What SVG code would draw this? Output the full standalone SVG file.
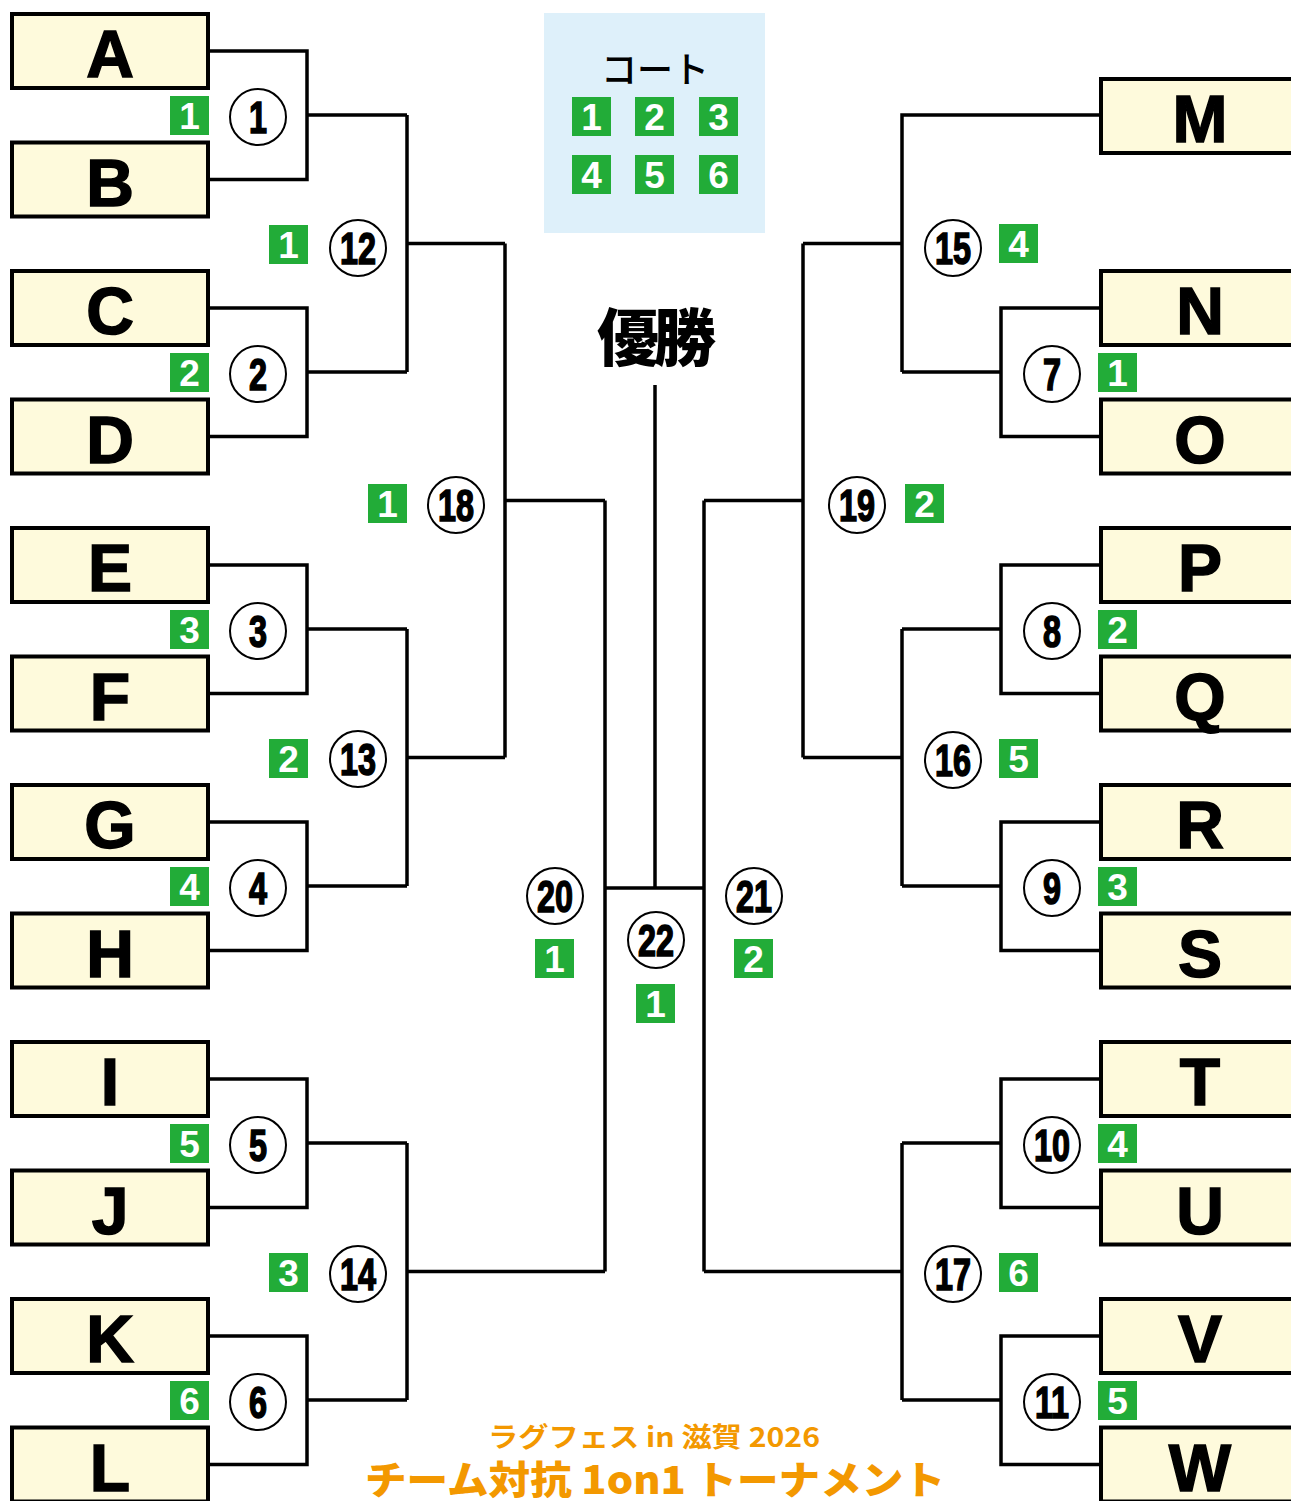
<svg xmlns="http://www.w3.org/2000/svg" width="1291" height="1501" viewBox="0 0 1291 1501">
<defs>
<style>
.box{fill:#FEFADC;stroke:#000;stroke-width:4}
.team{font-family:"Liberation Sans",Arial,sans-serif;font-weight:bold;font-size:66px;text-anchor:middle;fill:#000;stroke:#000;stroke-width:1.5}
.ln{fill:none;stroke:#000;stroke-width:3.5}
.circ{fill:#fff;stroke:#000;stroke-width:2}
.num{font-family:"Liberation Sans",Arial,sans-serif;font-weight:bold;font-size:45px;text-anchor:middle;fill:#000;stroke:#000;stroke-width:1.6}
.bd{fill:#22AC38}
.bn{font-family:"Liberation Sans",Arial,sans-serif;font-weight:bold;font-size:37px;text-anchor:middle;fill:#fff}
.jp{font-family:"Noto Sans CJK JP","Noto Sans",sans-serif}
</style>
</defs>
<rect width="1291" height="1501" fill="#fff"/>

<g id="connectors">
<path class="ln" d="M210 51H307V179.5H210M307 115H407"/>
<path class="ln" d="M210 308H307V436.5H210M307 372H407"/>
<path class="ln" d="M210 565H307V693.5H210M307 629H407"/>
<path class="ln" d="M210 822H307V950.5H210M307 886H407"/>
<path class="ln" d="M210 1079H307V1207.5H210M307 1143H407"/>
<path class="ln" d="M210 1336H307V1464.5H210M307 1400H407"/>
<path class="ln" d="M407 115V372M407 243.5H505"/>
<path class="ln" d="M407 629V886M407 757.5H505"/>
<path class="ln" d="M407 1143V1400M407 1271.5H605"/>
<path class="ln" d="M505 243.5V757.5M505 500.5H605"/>
<path class="ln" d="M605 500.5V1271.5M605 888H704"/>
<path class="ln" d="M655 385V888"/>
<path class="ln" d="M704 500.5V1271.5"/>
<path class="ln" d="M803 243.5V757.5M803 500.5H704"/>
<path class="ln" d="M1100 115H902V372M902 243.5H803"/>
<path class="ln" d="M1100 308H1001V436.5H1100M1001 372H902"/>
<path class="ln" d="M1100 565H1001V693.5H1100M1001 629H902"/>
<path class="ln" d="M1100 822H1001V950.5H1100M1001 886H902"/>
<path class="ln" d="M1100 1079H1001V1207.5H1100M1001 1143H902"/>
<path class="ln" d="M1100 1336H1001V1464.5H1100M1001 1400H902"/>
<path class="ln" d="M902 629V886M902 757.5H803"/>
<path class="ln" d="M902 1143V1400M902 1271.5H704"/>
</g>

<g id="team-A"><rect class="box" x="12" y="14" width="196" height="74"/><text class="team" x="110" y="77">A</text></g>
<g id="team-B"><rect class="box" x="12" y="142.5" width="196" height="74"/><text class="team" x="110" y="205.5">B</text></g>
<g id="team-C"><rect class="box" x="12" y="271" width="196" height="74"/><text class="team" x="110" y="334">C</text></g>
<g id="team-D"><rect class="box" x="12" y="399.5" width="196" height="74"/><text class="team" x="110" y="462.5">D</text></g>
<g id="team-E"><rect class="box" x="12" y="528" width="196" height="74"/><text class="team" x="110" y="591">E</text></g>
<g id="team-F"><rect class="box" x="12" y="656.5" width="196" height="74"/><text class="team" x="110" y="719.5">F</text></g>
<g id="team-G"><rect class="box" x="12" y="785" width="196" height="74"/><text class="team" x="110" y="848">G</text></g>
<g id="team-H"><rect class="box" x="12" y="913.5" width="196" height="74"/><text class="team" x="110" y="976.5">H</text></g>
<g id="team-I"><rect class="box" x="12" y="1042" width="196" height="74"/><text class="team" x="110" y="1105">I</text></g>
<g id="team-J"><rect class="box" x="12" y="1170.5" width="196" height="74"/><text class="team" x="110" y="1233.5">J</text></g>
<g id="team-K"><rect class="box" x="12" y="1299" width="196" height="74"/><text class="team" x="110" y="1362">K</text></g>
<g id="team-L"><rect class="box" x="12" y="1427.5" width="196" height="74"/><text class="team" x="110" y="1490.5">L</text></g>

<g id="team-M"><rect class="box" x="1101" y="79" width="200" height="74"/><text class="team" x="1200" y="142">M</text></g>
<g id="team-N"><rect class="box" x="1101" y="271" width="200" height="74"/><text class="team" x="1200" y="334">N</text></g>
<g id="team-O"><rect class="box" x="1101" y="399.5" width="200" height="74"/><text class="team" x="1200" y="462.5">O</text></g>
<g id="team-P"><rect class="box" x="1101" y="528" width="200" height="74"/><text class="team" x="1200" y="591">P</text></g>
<g id="team-Q"><rect class="box" x="1101" y="656.5" width="200" height="74"/><text class="team" x="1200" y="719.5">Q</text></g>
<g id="team-R"><rect class="box" x="1101" y="785" width="200" height="74"/><text class="team" x="1200" y="848">R</text></g>
<g id="team-S"><rect class="box" x="1101" y="913.5" width="200" height="74"/><text class="team" x="1200" y="976.5">S</text></g>
<g id="team-T"><rect class="box" x="1101" y="1042" width="200" height="74"/><text class="team" x="1200" y="1105">T</text></g>
<g id="team-U"><rect class="box" x="1101" y="1170.5" width="200" height="74"/><text class="team" x="1200" y="1233.5">U</text></g>
<g id="team-V"><rect class="box" x="1101" y="1299" width="200" height="74"/><text class="team" x="1200" y="1362">V</text></g>
<g id="team-W"><rect class="box" x="1101" y="1427.5" width="200" height="74"/><text class="team" x="1200" y="1490.5">W</text></g>

<g id="match-1"><rect class="bd" x="170" y="96" width="39" height="39"/><text class="bn" x="189.5" y="129">1</text><circle class="circ" cx="258" cy="117" r="28"/><text class="num" transform="translate(258 133) scale(0.72 1)">1</text></g>
<g id="match-2"><rect class="bd" x="170" y="353" width="39" height="39"/><text class="bn" x="189.5" y="386">2</text><circle class="circ" cx="258" cy="374" r="28"/><text class="num" transform="translate(258 390) scale(0.72 1)">2</text></g>
<g id="match-3"><rect class="bd" x="170" y="610" width="39" height="39"/><text class="bn" x="189.5" y="643">3</text><circle class="circ" cx="258" cy="631" r="28"/><text class="num" transform="translate(258 647) scale(0.72 1)">3</text></g>
<g id="match-4"><rect class="bd" x="170" y="867" width="39" height="39"/><text class="bn" x="189.5" y="900">4</text><circle class="circ" cx="258" cy="888" r="28"/><text class="num" transform="translate(258 904) scale(0.72 1)">4</text></g>
<g id="match-5"><rect class="bd" x="170" y="1124" width="39" height="39"/><text class="bn" x="189.5" y="1157">5</text><circle class="circ" cx="258" cy="1145" r="28"/><text class="num" transform="translate(258 1161) scale(0.72 1)">5</text></g>
<g id="match-6"><rect class="bd" x="170" y="1381" width="39" height="39"/><text class="bn" x="189.5" y="1414">6</text><circle class="circ" cx="258" cy="1402" r="28"/><text class="num" transform="translate(258 1418) scale(0.72 1)">6</text></g>
<g id="match-12"><rect class="bd" x="269" y="225" width="39" height="39"/><text class="bn" x="288.5" y="258">1</text><circle class="circ" cx="358" cy="248" r="28"/><text class="num" transform="translate(358 264) scale(0.72 1)">12</text></g>
<g id="match-13"><rect class="bd" x="269" y="739" width="39" height="39"/><text class="bn" x="288.5" y="772">2</text><circle class="circ" cx="358" cy="759" r="28"/><text class="num" transform="translate(358 775) scale(0.72 1)">13</text></g>
<g id="match-14"><rect class="bd" x="269" y="1253" width="39" height="39"/><text class="bn" x="288.5" y="1286">3</text><circle class="circ" cx="358" cy="1274" r="28"/><text class="num" transform="translate(358 1290) scale(0.72 1)">14</text></g>
<g id="match-18"><rect class="bd" x="368" y="484" width="39" height="39"/><text class="bn" x="387.5" y="517">1</text><circle class="circ" cx="456" cy="505" r="28"/><text class="num" transform="translate(456 521) scale(0.72 1)">18</text></g>
<g id="match-20"><rect class="bd" x="535" y="939" width="39" height="39"/><text class="bn" x="554.5" y="972">1</text><circle class="circ" cx="555" cy="896" r="28"/><text class="num" transform="translate(555 912) scale(0.72 1)">20</text></g>
<g id="match-22"><rect class="bd" x="636" y="984" width="39" height="39"/><text class="bn" x="655.5" y="1017">1</text><circle class="circ" cx="656" cy="940" r="28"/><text class="num" transform="translate(656 956) scale(0.72 1)">22</text></g>
<g id="match-21"><rect class="bd" x="734" y="939" width="39" height="39"/><text class="bn" x="753.5" y="972">2</text><circle class="circ" cx="754" cy="896" r="28"/><text class="num" transform="translate(754 912) scale(0.72 1)">21</text></g>
<g id="match-19"><rect class="bd" x="905" y="484" width="39" height="39"/><text class="bn" x="924.5" y="517">2</text><circle class="circ" cx="857" cy="505" r="28"/><text class="num" transform="translate(857 521) scale(0.72 1)">19</text></g>
<g id="match-15"><rect class="bd" x="999" y="224" width="39" height="39"/><text class="bn" x="1018.5" y="257">4</text><circle class="circ" cx="953" cy="248" r="28"/><text class="num" transform="translate(953 264) scale(0.72 1)">15</text></g>
<g id="match-16"><rect class="bd" x="999" y="739" width="39" height="39"/><text class="bn" x="1018.5" y="772">5</text><circle class="circ" cx="953" cy="760" r="28"/><text class="num" transform="translate(953 776) scale(0.72 1)">16</text></g>
<g id="match-17"><rect class="bd" x="999" y="1253" width="39" height="39"/><text class="bn" x="1018.5" y="1286">6</text><circle class="circ" cx="953" cy="1274" r="28"/><text class="num" transform="translate(953 1290) scale(0.72 1)">17</text></g>
<g id="match-7"><rect class="bd" x="1098" y="353" width="39" height="39"/><text class="bn" x="1117.5" y="386">1</text><circle class="circ" cx="1052" cy="374" r="28"/><text class="num" transform="translate(1052 390) scale(0.72 1)">7</text></g>
<g id="match-8"><rect class="bd" x="1098" y="610" width="39" height="39"/><text class="bn" x="1117.5" y="643">2</text><circle class="circ" cx="1052" cy="631" r="28"/><text class="num" transform="translate(1052 647) scale(0.72 1)">8</text></g>
<g id="match-9"><rect class="bd" x="1098" y="867" width="39" height="39"/><text class="bn" x="1117.5" y="900">3</text><circle class="circ" cx="1052" cy="888" r="28"/><text class="num" transform="translate(1052 904) scale(0.72 1)">9</text></g>
<g id="match-10"><rect class="bd" x="1098" y="1124" width="39" height="39"/><text class="bn" x="1117.5" y="1157">4</text><circle class="circ" cx="1052" cy="1145" r="28"/><text class="num" transform="translate(1052 1161) scale(0.72 1)">10</text></g>
<g id="match-11"><rect class="bd" x="1098" y="1381" width="39" height="39"/><text class="bn" x="1117.5" y="1414">5</text><circle class="circ" cx="1052" cy="1402" r="28"/><text class="num" transform="translate(1052 1418) scale(0.72 1)">11</text></g>

<g id="court-legend">
<rect x="544" y="13" width="221" height="220" fill="#DEF0FA"/>
<text class="jp" x="655" y="83" font-size="36" font-weight="500" text-anchor="middle" fill="#000">コート</text>
<rect class="bd" x="572" y="97" width="39" height="39"/><text class="bn" x="591.5" y="130">1</text>
<rect class="bd" x="635" y="97" width="39" height="39"/><text class="bn" x="654.5" y="130">2</text>
<rect class="bd" x="699" y="97" width="39" height="39"/><text class="bn" x="718.5" y="130">3</text>
<rect class="bd" x="572" y="155" width="39" height="39"/><text class="bn" x="591.5" y="188">4</text>
<rect class="bd" x="635" y="155" width="39" height="39"/><text class="bn" x="654.5" y="188">5</text>
<rect class="bd" x="699" y="155" width="39" height="39"/><text class="bn" x="718.5" y="188">6</text>
</g>

<g id="champion"><text class="jp" x="654" y="361" font-size="62" font-weight="900" text-anchor="middle" letter-spacing="-5" fill="#000">優勝</text></g>

<g id="title">
<text class="jp" x="654" y="1447" font-size="27" font-weight="bold" text-anchor="middle" fill="#F39800" textLength="332" lengthAdjust="spacingAndGlyphs">ラグフェス in 滋賀 2026</text>
<text class="jp" x="655" y="1494" font-size="39" font-weight="900" text-anchor="middle" fill="#F39800" textLength="580" lengthAdjust="spacingAndGlyphs">チーム対抗 1on1 トーナメント</text>
</g>
</svg>
